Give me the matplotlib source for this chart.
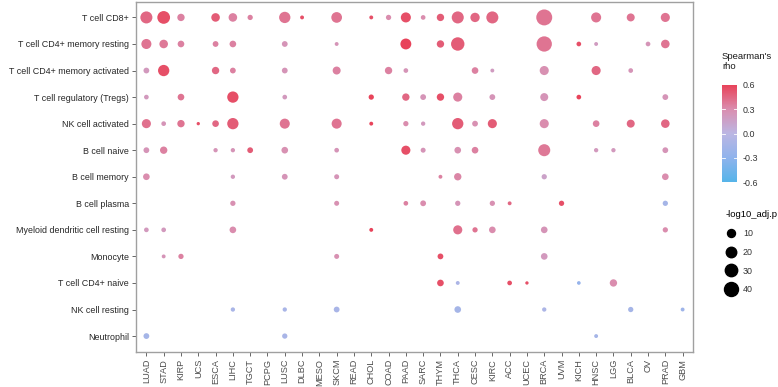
import numpy as np
import matplotlib
matplotlib.use("Agg")
import matplotlib.pyplot as plt
from matplotlib.colors import LinearSegmentedColormap, Normalize
from matplotlib.lines import Line2D

plt.rcParams['font.family'] = ['Liberation Sans', 'DejaVu Sans']

cell_types = ["T cell CD8+", "T cell CD4+ memory resting", "T cell CD4+ memory activated",
              "T cell regulatory (Tregs)", "NK cell activated", "B cell naive", "B cell memory",
              "B cell plasma", "Myeloid dendritic cell resting", "Monocyte", "T cell CD4+ naive",
              "NK cell resting", "Neutrophil"]
cancers = ["LUAD", "STAD", "KIRP", "UCS", "ESCA", "LIHC", "TGCT", "PCPG", "LUSC", "DLBC", "MESO",
           "SKCM", "READ", "CHOL", "COAD", "PAAD", "SARC", "THYM", "THCA", "CESC", "KIRC", "ACC",
           "UCEC", "BRCA", "UVM", "KICH", "HNSC", "LGG", "BLCA", "OV", "PRAD", "GBM"]

# each row: (cancer, rho, -log10 adj p)
cd8 = [("LUAD", .45, 28), ("STAD", .55, 32), ("KIRP", .35, 8), ("ESCA", .5, 12), ("LIHC", .35, 12),
       ("TGCT", .35, 3), ("LUSC", .4, 24), ("DLBC", .55, 1), ("SKCM", .4, 21), ("CHOL", .55, 1),
       ("COAD", .3, 3), ("PAAD", .55, 18), ("SARC", .3, 2), ("THYM", .5, 8), ("THCA", .45, 28),
       ("CESC", .45, 15), ("KIRC", .45, 28), ("BRCA", .4, 54), ("HNSC", .4, 18), ("BLCA", .4, 10),
       ("PRAD", .4, 14)]
cd4_mem_rest = [("LUAD", .4, 18), ("STAD", .38, 12), ("KIRP", .35, 6), ("ESCA", .35, 4), ("LIHC", .35, 6),
                ("LUSC", .25, 4), ("SKCM", .25, 1), ("PAAD", .6, 22), ("THYM", .5, 8), ("THCA", .5, 36),
                ("BRCA", .4, 49), ("KICH", .55, 2), ("HNSC", .2, 1), ("OV", .25, 2), ("PRAD", .4, 12)]
cd4_mem_act = [("LUAD", .22, 4), ("STAD", .55, 24), ("ESCA", .45, 8), ("LIHC", .35, 4), ("LUSC", .25, 4),
               ("SKCM", .35, 10), ("COAD", .35, 8), ("PAAD", .25, 2), ("CESC", .35, 6), ("KIRC", .2, 1),
               ("BRCA", .28, 14), ("HNSC", .45, 14), ("BLCA", .25, 2)]
tregs = [("LUAD", .22, 2), ("KIRP", .4, 6), ("LIHC", .55, 24), ("LUSC", .22, 2), ("CHOL", .6, 3),
         ("PAAD", .45, 8), ("SARC", .25, 4), ("THYM", .55, 8), ("THCA", .35, 14), ("KIRC", .25, 4),
         ("BRCA", .25, 10), ("KICH", .6, 2), ("PRAD", .25, 4)]
nk_act = [("LUAD", .42, 14), ("STAD", .25, 2), ("KIRP", .4, 8), ("UCS", .55, .5), ("ESCA", .45, 6),
          ("LIHC", .5, 24), ("LUSC", .4, 18), ("SKCM", .4, 18), ("CHOL", .6, 1), ("PAAD", .3, 3),
          ("SARC", .22, 1.5), ("THCA", .5, 24), ("CESC", .28, 4), ("KIRC", .5, 14), ("BRCA", .3, 14),
          ("HNSC", .35, 6), ("BLCA", .45, 10), ("PRAD", .45, 12)]
b_naive = [("LUAD", .25, 4), ("STAD", .35, 8), ("ESCA", .25, 1.5), ("LIHC", .25, 1.5), ("TGCT", .5, 4),
           ("LUSC", .28, 6), ("SKCM", .25, 2), ("PAAD", .55, 14), ("SARC", .25, 2.5), ("THCA", .28, 6),
           ("CESC", .35, 6), ("BRCA", .38, 28), ("HNSC", .22, 1.5), ("LGG", .22, 1.5), ("PRAD", .25, 4)]
b_mem = [("LUAD", .3, 6), ("LIHC", .22, 1.5), ("LUSC", .25, 4), ("SKCM", .25, 2.5), ("THYM", .35, 1),
         ("THCA", .33, 8), ("BRCA", .15, 3), ("PRAD", .3, 6)]
b_plasma = [("LIHC", .28, 3), ("SKCM", .28, 2.5), ("PAAD", .35, 2), ("SARC", .3, 4), ("THCA", .25, 3),
            ("KIRC", .28, 3), ("ACC", .45, 1), ("UVM", .55, 3), ("PRAD", -.15, 3)]
mdc_rest = [("LUAD", .22, 2), ("STAD", .22, 2), ("LIHC", .3, 6), ("CHOL", .6, 1), ("THCA", .42, 14),
            ("CESC", .4, 3), ("KIRC", .3, 6), ("BRCA", .25, 6), ("PRAD", .3, 3)]
monocyte = [("STAD", .25, 1), ("KIRP", .35, 3), ("SKCM", .28, 2.5), ("THYM", .55, 4), ("BRCA", .22, 6)]
cd4_naive = [("THYM", .55, 6), ("THCA", -.1, 1), ("ACC", .55, 2), ("UCEC", .55, .5), ("KICH", -.25, .8),
             ("LGG", .3, 8)]
nk_rest = [("LIHC", -.12, 1.5), ("LUSC", -.12, 1.5), ("SKCM", -.12, 4), ("THCA", -.15, 6),
           ("BRCA", -.1, 1.5), ("BLCA", -.15, 3), ("GBM", -.2, 1)]
neutrophil = [("LUAD", -.15, 4), ("LUSC", -.12, 3), ("HNSC", -.15, 1)]

rows_data = [cd8, cd4_mem_rest, cd4_mem_act, tregs, nk_act, b_naive, b_mem, b_plasma,
             mdc_rest, monocyte, cd4_naive, nk_rest, neutrophil]
size_breaks = [10, 20, 30, 40]

DPI = 100
def diam_pt(v):
    d_px = 8 + 1.9 * (np.sqrt(v) - np.sqrt(10))
    return d_px * 72 / DPI

cmap = LinearSegmentedColormap.from_list("rho", [(0, "#56B4E9"), (0.25, "#8FB3EC"), (0.5, "#BBB6E3"),
                                                 (0.75, "#DA8EAF"), (1, "#E8435A")])
norm = Normalize(-0.6, 0.6)

fig = plt.figure(figsize=(7.78, 3.87), dpi=DPI)
ax = fig.add_axes([136/778, 1-352/387, (693-136)/778, (352-1.5)/387])

xs, ys, cs, ss = [], [], [], []
for ri, row in enumerate(rows_data):
    for c, rho, p in row:
        xs.append(cancers.index(c)); ys.append(ri); cs.append(rho); ss.append(diam_pt(p)**2)
ax.scatter(xs, ys, c=cs, s=ss, cmap=cmap, norm=norm, linewidths=0, zorder=3)

ax.set_xlim(-0.6, len(cancers) - 0.4)
ax.set_ylim(len(cell_types) - 0.4, -0.6)
ax.set_xticks(range(len(cancers)))
ax.set_xticklabels(cancers, rotation=90, fontsize=6.6, color="#4d4d4d")
ax.set_yticks(range(len(cell_types)))
ax.set_yticklabels(cell_types, fontsize=6.4, color="#262626")
ax.tick_params(length=3, color="#4d4d4d", width=0.6, pad=2)
for sp in ax.spines.values():
    sp.set_color("#a0a0a0"); sp.set_linewidth(1.0)

# colorbar
LX = 722
cax = fig.add_axes([LX/778, 1-182/387, 15/778, (182-85)/387])
cb = fig.colorbar(plt.cm.ScalarMappable(norm=norm, cmap=cmap), cax=cax, ticks=[-0.6, -0.3, 0, 0.3, 0.6])
cb.outline.set_visible(False)
cb.ax.set_yticklabels(["-0.6", "-0.3", "0.0", "0.3", "0.6"], fontsize=6.4, color="#333333")
cax.tick_params(length=0, pad=4)
for t in [-0.3, 0, 0.3]:
    cax.plot([0, 0.2], [t, t], color="white", lw=0.6, transform=cax.get_yaxis_transform())
    cax.plot([0.8, 1], [t, t], color="white", lw=0.6, transform=cax.get_yaxis_transform())
fig.text(LX/778, 1-52/387, "Spearman's\nrho", fontsize=6.8, va="top", ha="left", color="#1a1a1a", linespacing=1.1)

handles = [Line2D([], [], marker="o", linestyle="", color="black", markersize=diam_pt(b)) for b in size_breaks]
leg = fig.legend(handles, [str(b) for b in size_breaks], title="-log10_adj.p", loc="upper left",
                 bbox_to_anchor=((LX-3)/778, 1-204/387), frameon=False, fontsize=6.4, title_fontsize=6.8,
                 labelspacing=1.1, handletextpad=0.6, handlelength=1.4, alignment="left", borderpad=0.2)
for t in leg.get_texts():
    t.set_color("#333333")

fig.savefig("out.png", dpi=DPI)
